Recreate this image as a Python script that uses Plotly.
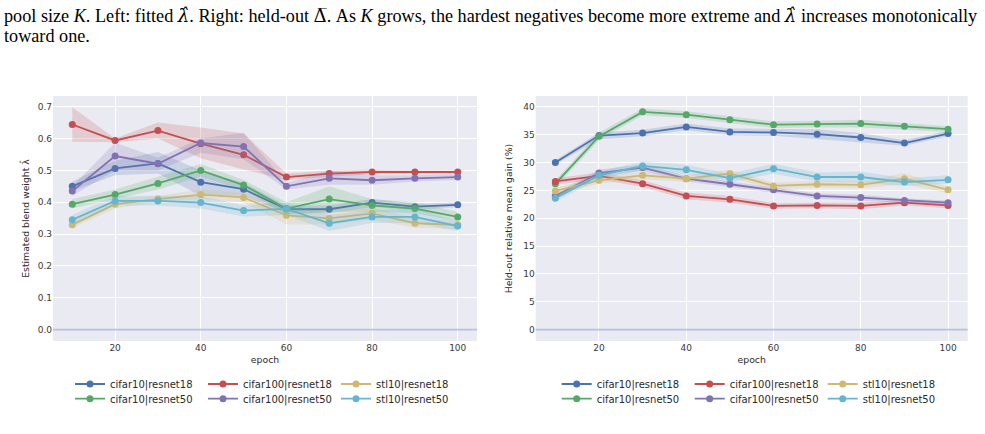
import plotly.graph_objects as go

epochs = [10, 20, 30, 40, 50, 60, 70, 80, 90, 100]
series_names = ["cifar10|resnet18", "cifar10|resnet50", "cifar100|resnet18",
                "cifar100|resnet50", "stl10|resnet18", "stl10|resnet50"]
colors = ["#4C72B0", "#55A868", "#C44E52", "#8172B2", "#CCB974", "#64B5CD"]
fills = ["rgba(76,114,176,0.2)", "rgba(85,168,104,0.2)", "rgba(196,78,82,0.2)",
         "rgba(129,114,178,0.2)", "rgba(204,185,116,0.2)", "rgba(100,181,205,0.2)"]

# Left panel: estimated blend weight lambda-hat (mean, lower CI, upper CI)
lam_c10_r18 = [0.450, 0.506, 0.522, 0.463, 0.441, 0.378, 0.378, 0.399, 0.386, 0.392]
lam_c10_r18_lo = [0.435, 0.485, 0.490, 0.420, 0.420, 0.365, 0.365, 0.385, 0.375, 0.385]
lam_c10_r18_hi = [0.465, 0.530, 0.558, 0.500, 0.460, 0.390, 0.390, 0.410, 0.395, 0.400]

lam_c10_r50 = [0.394, 0.424, 0.459, 0.500, 0.454, 0.380, 0.410, 0.390, 0.380, 0.354]
lam_c10_r50_lo = [0.380, 0.410, 0.440, 0.480, 0.440, 0.360, 0.370, 0.370, 0.365, 0.340]
lam_c10_r50_hi = [0.410, 0.440, 0.480, 0.520, 0.470, 0.400, 0.450, 0.410, 0.400, 0.370]

lam_c100_r18 = [0.644, 0.594, 0.625, 0.584, 0.549, 0.479, 0.490, 0.495, 0.495, 0.495]
lam_c100_r18_lo = [0.590, 0.588, 0.600, 0.538, 0.503, 0.470, 0.480, 0.488, 0.490, 0.490]
lam_c100_r18_hi = [0.698, 0.600, 0.650, 0.635, 0.616, 0.490, 0.500, 0.502, 0.500, 0.500]

lam_c100_r50 = [0.435, 0.545, 0.521, 0.586, 0.575, 0.450, 0.475, 0.469, 0.475, 0.479]
lam_c100_r50_lo = [0.420, 0.500, 0.500, 0.555, 0.535, 0.440, 0.455, 0.455, 0.465, 0.470]
lam_c100_r50_hi = [0.450, 0.587, 0.540, 0.600, 0.618, 0.460, 0.500, 0.485, 0.485, 0.490]

lam_stl_r18 = [0.329, 0.394, 0.410, 0.424, 0.415, 0.359, 0.349, 0.365, 0.334, 0.329]
lam_stl_r18_lo = [0.320, 0.380, 0.400, 0.410, 0.400, 0.330, 0.330, 0.345, 0.320, 0.315]
lam_stl_r18_hi = [0.340, 0.410, 0.420, 0.440, 0.430, 0.380, 0.370, 0.385, 0.350, 0.340]

lam_stl_r50 = [0.345, 0.404, 0.404, 0.399, 0.374, 0.379, 0.334, 0.354, 0.354, 0.325]
lam_stl_r50_lo = [0.330, 0.390, 0.390, 0.380, 0.355, 0.360, 0.310, 0.335, 0.335, 0.310]
lam_stl_r50_hi = [0.360, 0.420, 0.420, 0.420, 0.390, 0.400, 0.360, 0.375, 0.380, 0.340]

# Right panel: held-out relative mean gain (%)
gain_c10_r18 = [30.0, 34.85, 35.3, 36.4, 35.5, 35.4, 35.1, 34.5, 33.5, 35.2]
gain_c10_r18_lo = [29.6, 34.2, 34.7, 35.8, 34.9, 34.8, 34.1, 33.6, 33.0, 34.7]
gain_c10_r18_hi = [30.4, 35.4, 35.9, 37.0, 36.1, 36.0, 36.0, 35.3, 34.0, 35.7]

gain_c10_r50 = [26.2, 34.7, 39.1, 38.6, 37.7, 36.8, 36.9, 37.0, 36.5, 36.0]
gain_c10_r50_lo = [25.6, 34.0, 38.5, 38.0, 37.1, 36.2, 36.3, 36.3, 35.9, 35.5]
gain_c10_r50_hi = [26.8, 35.4, 39.7, 39.2, 38.3, 37.4, 37.5, 37.7, 37.1, 36.5]

gain_c100_r18 = [26.6, 27.6, 26.2, 24.0, 23.4, 22.2, 22.3, 22.2, 22.8, 22.3]
gain_c100_r18_lo = [26.0, 27.0, 25.6, 23.4, 22.8, 21.7, 21.8, 21.6, 22.3, 21.8]
gain_c100_r18_hi = [27.2, 28.2, 26.8, 24.6, 24.0, 22.7, 22.8, 22.8, 23.3, 22.8]

gain_c100_r50 = [24.0, 28.1, 29.1, 27.1, 26.1, 25.1, 24.0, 23.7, 23.2, 22.8]
gain_c100_r50_lo = [23.5, 27.5, 28.5, 26.6, 25.6, 24.6, 23.5, 23.2, 22.8, 22.4]
gain_c100_r50_hi = [24.5, 28.7, 29.7, 27.6, 26.6, 25.6, 24.5, 24.2, 23.6, 23.2]

gain_stl_r18 = [24.9, 26.8, 27.7, 27.1, 28.0, 25.8, 26.1, 26.0, 27.1, 25.1]
gain_stl_r18_lo = [24.3, 26.2, 27.0, 26.5, 27.3, 25.2, 25.5, 25.4, 26.1, 24.5]
gain_stl_r18_hi = [25.5, 27.4, 28.4, 27.7, 28.7, 26.4, 26.7, 26.6, 28.1, 25.7]

gain_stl_r50 = [23.6, 27.7, 29.4, 28.7, 27.2, 28.9, 27.4, 27.4, 26.5, 26.9]
gain_stl_r50_lo = [23.0, 27.0, 28.6, 27.8, 26.4, 28.0, 26.6, 26.4, 25.8, 26.2]
gain_stl_r50_hi = [24.2, 28.4, 30.2, 29.6, 28.0, 29.8, 28.2, 28.4, 27.2, 27.7]

left_data = [
    (lam_c10_r18, lam_c10_r18_lo, lam_c10_r18_hi),
    (lam_c10_r50, lam_c10_r50_lo, lam_c10_r50_hi),
    (lam_c100_r18, lam_c100_r18_lo, lam_c100_r18_hi),
    (lam_c100_r50, lam_c100_r50_lo, lam_c100_r50_hi),
    (lam_stl_r18, lam_stl_r18_lo, lam_stl_r18_hi),
    (lam_stl_r50, lam_stl_r50_lo, lam_stl_r50_hi),
]
right_data = [
    (gain_c10_r18, gain_c10_r18_lo, gain_c10_r18_hi),
    (gain_c10_r50, gain_c10_r50_lo, gain_c10_r50_hi),
    (gain_c100_r18, gain_c100_r18_lo, gain_c100_r18_hi),
    (gain_c100_r50, gain_c100_r50_lo, gain_c100_r50_hi),
    (gain_stl_r18, gain_stl_r18_lo, gain_stl_r18_hi),
    (gain_stl_r50, gain_stl_r50_lo, gain_stl_r50_hi),
]

left_y_ticks = [0.0, 0.1, 0.2, 0.3, 0.4, 0.5, 0.6, 0.7]
right_y_ticks = [0, 5, 10, 15, 20, 25, 30, 35, 40]
x_ticks = [20, 40, 60, 80, 100]

W, H = 985, 434
fig = go.Figure()

def add_panel(data, xa, ya, legends):
    for i, (name, (vals, lo, hi)) in enumerate(zip(series_names, data)):
        fig.add_trace(go.Scatter(x=epochs + epochs[::-1], y=hi + lo[::-1], fill="toself",
                                 fillcolor=fills[i], line=dict(width=0), mode="lines",
                                 hoverinfo="skip", showlegend=False, xaxis=xa, yaxis=ya))
        leg = legends[0] if "resnet18" in name else legends[1]
        fig.add_trace(go.Scatter(x=epochs, y=vals, mode="lines+markers", name=name,
                                 line=dict(color=colors[i], width=1.8),
                                 marker=dict(color=colors[i], size=7),
                                 xaxis=xa, yaxis=ya, legend=leg, showlegend=True))

add_panel(left_data, "x", "y", ("legend", "legend2"))
add_panel(right_data, "x2", "y2", ("legend3", "legend4"))

# zero reference lines
for xr, yr in (("x domain", "y"), ("x2 domain", "y2")):
    fig.add_shape(type="line", x0=0, x1=1, y0=0, y1=0, xref=xr, yref=yr,
                  line=dict(color="#B4C2E0", width=1.6))

tickfont = dict(family="DejaVu Sans", size=9, color="#3a3a3a")
titlefont = dict(family="DejaVu Sans", size=9.3, color="#2a2a2a")
axis_common = dict(showgrid=True, gridcolor="white", gridwidth=1, zeroline=False,
                   showline=False, ticks="", tickfont=tickfont)

y_dom = [(H - 341) / H, (H - 96) / H]
fig.update_layout(
    width=W, height=H, margin=dict(l=0, r=0, t=0, b=0),
    paper_bgcolor="white", plot_bgcolor="#EAEAF2",
    xaxis=dict(domain=[53 / W, 477 / W], range=[5.5, 104.5], tickvals=x_ticks,
               title=dict(text="epoch", font=titlefont, standoff=4), **axis_common),
    yaxis=dict(domain=y_dom, range=[-0.0358, 0.7336], tickvals=left_y_ticks,
               ticktext=[f"{v:.1f}" for v in left_y_ticks],
               title=dict(text="Estimated blend weight λ̂", font=titlefont, standoff=6),
               **axis_common),
    xaxis2=dict(domain=[535.7 / W, 967.7 / W], range=[5.5, 104.5], tickvals=x_ticks,
                anchor="y2", title=dict(text="epoch", font=titlefont, standoff=4), **axis_common),
    yaxis2=dict(domain=y_dom, range=[-2.05, 41.95], tickvals=right_y_ticks, anchor="x2",
                title=dict(text="Held-out relative mean gain (%)", font=titlefont, standoff=8),
                **axis_common),
)

leg_common = dict(orientation="h", xanchor="left", yanchor="middle", bgcolor="rgba(0,0,0,0)",
                  font=dict(family="DejaVu Sans", size=10, color="#2a2a2a"),
                  entrywidth=88, entrywidthmode="pixels",
                  itemclick=False, itemdoubleclick=False)
fig.update_layout(
    legend=dict(x=70 / W, y=1 - 384 / H, **leg_common),
    legend2=dict(x=70 / W, y=1 - 398.7 / H, **leg_common),
    legend3=dict(x=556.7 / W, y=1 - 384 / H, **leg_common),
    legend4=dict(x=556.7 / W, y=1 - 398.7 / H, **leg_common),
)

serif = dict(family="Liberation Serif", size=18.2, color="black")
lam_hat = "<span style='font-family:DejaVu Serif'><i>λ̂</i></span>"
delta_bar = "<span style='font-family:DejaVu Serif'>Δ̅</span>"
fig.add_annotation(xref="paper", yref="paper", x=2 / W, y=1 - 15 / H, xanchor="left",
                   yanchor="middle", showarrow=False, font=serif,
                   text=f"pool size <i>K</i>. Left: fitted {lam_hat}. Right: held-out {delta_bar}. "
                        f"As <i>K</i> grows, the hardest negatives become more extreme and "
                        f"{lam_hat} increases monotonically")
fig.add_annotation(xref="paper", yref="paper", x=2 / W, y=1 - 36 / H, xanchor="left",
                   yanchor="middle", showarrow=False, font=serif, text="toward one.")

fig.write_html("out.html")
